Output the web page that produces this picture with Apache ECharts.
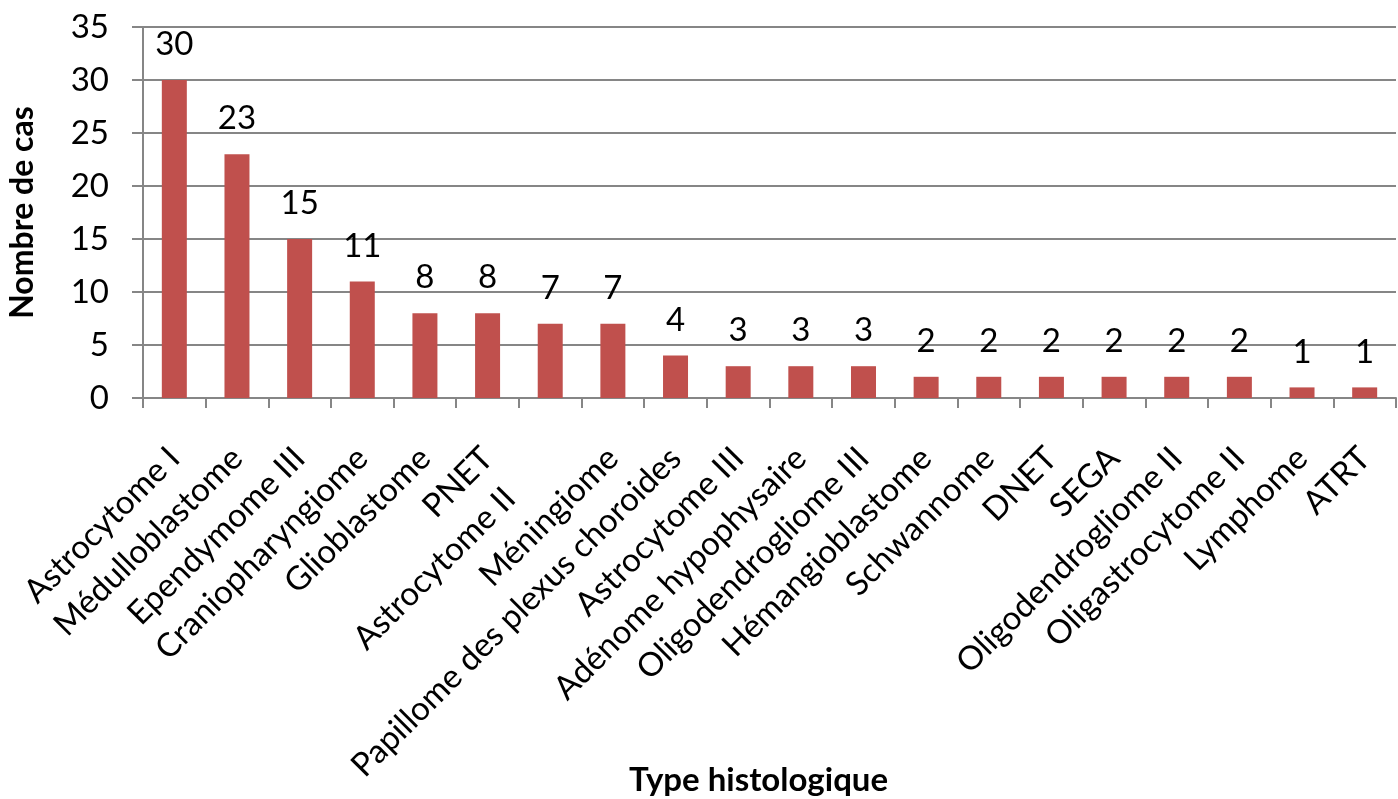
<!DOCTYPE html>
<html>
<head>
<meta charset="utf-8">
<script src="https://cdn.jsdelivr.net/npm/echarts@6/dist/echarts.min.js"></script>
<style>
  html, body { margin: 0; padding: 0; background: #fff; }
  #chart { width: 1398px; height: 799px; }
</style>
</head>
<body>
<div id="chart"></div>
<script>
// Types histologiques et nombre de cas
const categories = [
  'Astrocytome I', 'Médulloblastome', 'Ependymome III', 'Craniopharyngiome',
  'Glioblastome', 'PNET', 'Astrocytome II', 'Méningiome',
  'Papillome des plexus choroides', 'Astrocytome III', 'Adénome hypophysaire',
  'Oligodendrogliome III', 'Hémangioblastome', 'Schwannome', 'DNET', 'SEGA',
  'Oligodendrogliome II', 'Oligastrocytome II', 'Lymphome', 'ATRT'
];
const cases = [30, 23, 15, 11, 8, 8, 7, 7, 4, 3, 3, 3, 2, 2, 2, 2, 2, 2, 1, 1];
const yTicks = [0, 5, 10, 15, 20, 25, 30, 35];

const FONT = "Lato, 'Open Sans', sans-serif";
const GRAY = '#868686';
const LABEL_SIZE = 33;

// the one category label that is pushed further down its slant
const shiftedLabel = 6;

const chart = echarts.init(document.getElementById('chart'), null, { renderer: 'canvas' });
chart.setOption({
  animation: false,
  textStyle: { fontFamily: FONT },
  grid: { left: 143, right: 2, top: 27, bottom: 401, containLabel: false, outerBoundsMode: 'none' },
  xAxis: {
    type: 'category',
    data: categories,
    name: 'Type histologique',
    nameLocation: 'middle',
    nameGap: 366,
    nameMoveOverlap: false,
    nameTextStyle: {
      fontFamily: FONT, fontSize: 33, fontWeight: 'bold', color: '#000',
      padding: [0, 22, 0, 0]
    },
    axisLine: { lineStyle: { color: GRAY, width: 2 } },
    axisTick: { show: true, length: 10, alignWithLabel: false, lineStyle: { color: GRAY, width: 2 } },
    axisLabel: {
      rotate: 45, margin: 55, fontSize: LABEL_SIZE, color: '#000', fontFamily: FONT, interval: 0,
      formatter: (v, i) => i === shiftedLabel ? '{t|' + v + '}{sp| }' : v,
      rich: {
        t: { fontSize: LABEL_SIZE, fontFamily: FONT, color: '#000' },
        sp: { fontSize: LABEL_SIZE, fontFamily: FONT, width: 57 }
      }
    }
  },
  yAxis: {
    type: 'value',
    min: yTicks[0],
    max: yTicks[yTicks.length - 1],
    interval: 5,
    name: 'Nombre de cas',
    nameLocation: 'middle',
    nameGap: 104,
    nameMoveOverlap: false,
    nameTextStyle: { fontFamily: FONT, fontSize: 32, fontWeight: 'bold', color: '#000' },
    axisLine: { show: true, lineStyle: { color: GRAY, width: 2 } },
    axisTick: { show: true, inside: false, length: 11, lineStyle: { color: GRAY, width: 2 } },
    axisLabel: { fontSize: 33, color: '#000', fontFamily: FONT, margin: 34 },
    splitLine: { show: true, lineStyle: { color: GRAY, width: 2 } }
  },
  series: [{
    type: 'bar',
    data: cases,
    barWidth: 25,
    itemStyle: { color: '#C0504D' },
    label: { show: true, position: 'top', distance: 19, fontSize: 33, color: '#000', fontFamily: FONT }
  }]
});
</script>
</body>
</html>
